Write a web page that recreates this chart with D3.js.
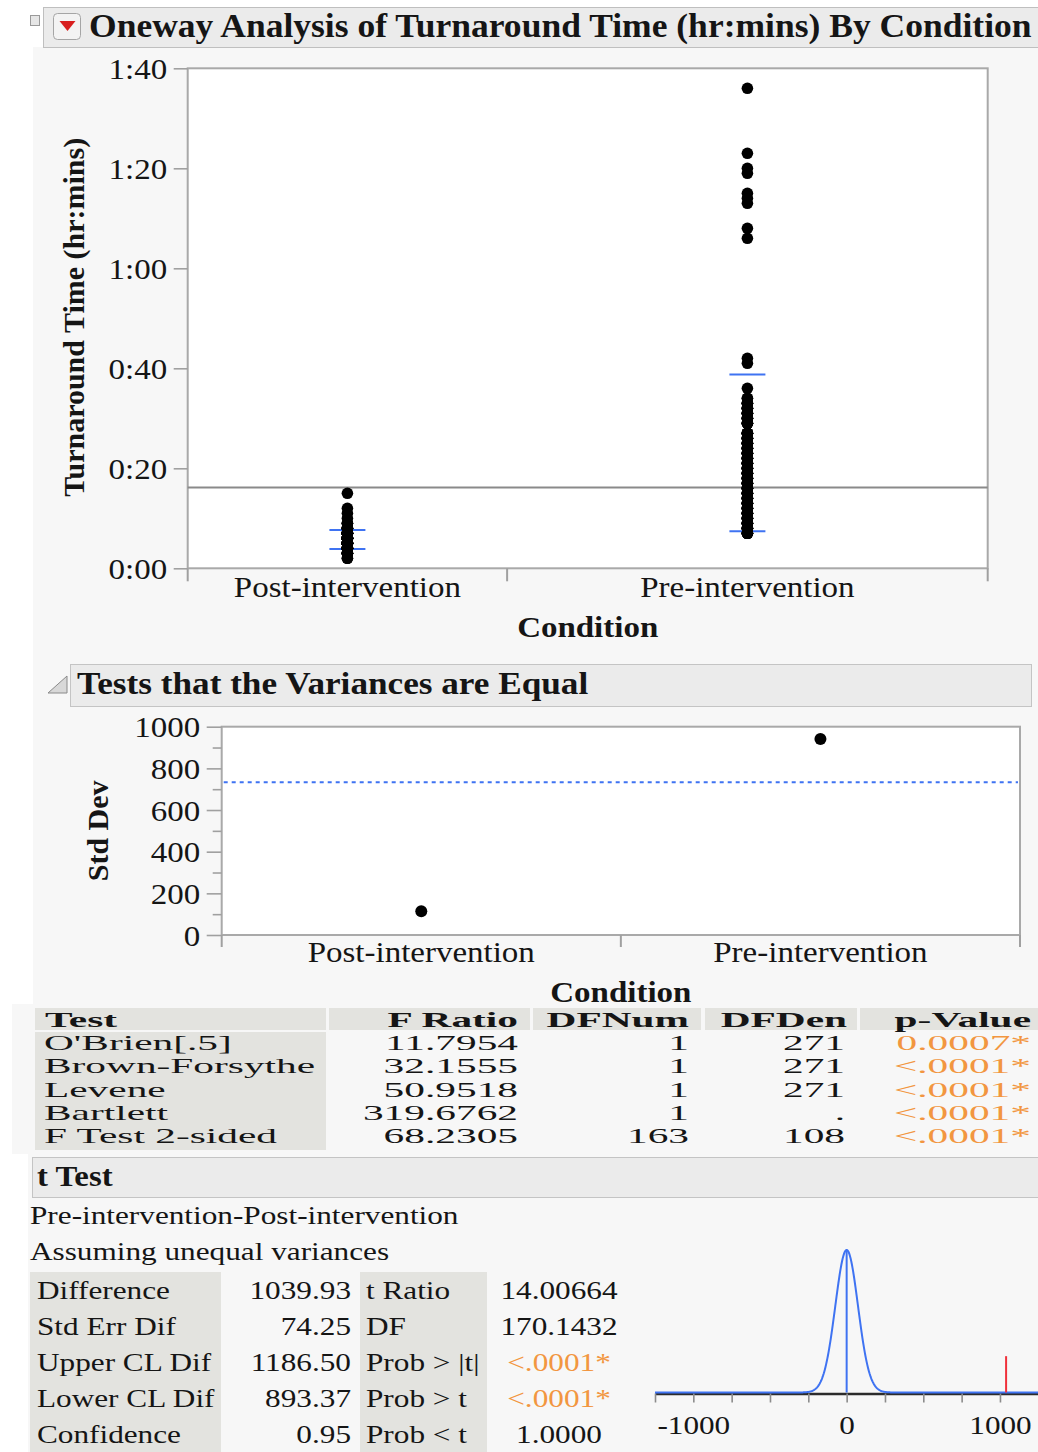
<!DOCTYPE html>
<html>
<head>
<meta charset="utf-8">
<script src="https://cdn.jsdelivr.net/npm/d3@7"></script>
<style>
  html, body { margin: 0; padding: 0; background: #fff; }
  svg { display: block; }
</style>
</head>
<body>
<svg id="chart" width="1038" height="1452"></svg>
<script>
// Turnaround time per request, in seconds
const postIntervention = [
  120, 120,
  180, 180, 180, 180, 180, 180, 180,
  240, 240, 240, 240, 240, 240, 240, 240, 240, 240, 240, 240, 240, 240, 240, 240,
  300, 300, 300, 300, 300, 300, 300, 300, 300, 300, 300, 300, 300,
  300, 300, 300, 300, 300, 300, 300, 300, 300, 300, 300, 300, 300,
  360, 360, 360, 360, 360, 360, 360, 360, 360, 360, 360, 360, 360, 360,
  360, 360, 360, 360, 360, 360, 360, 360, 360, 360, 360, 360, 360, 360,
  420, 420, 420, 420, 420, 420, 420, 420, 420, 420, 420, 420, 420, 420, 420, 420,
  480, 480, 480, 480, 480, 480, 480,
  540, 540, 540,
  600, 660, 720, 900
];
const preIntervention = [
  420, 420, 420, 420, 420, 420,
  480, 480, 480, 480, 480, 480,
  540, 540, 540, 540, 540, 540,
  600, 600, 600, 600, 600, 600,
  660, 660, 660, 660, 660, 660,
  720, 720, 720, 720, 720, 720,
  780, 780, 780, 780, 780, 780,
  840, 840, 840, 840, 840, 840,
  900, 900, 900, 900, 900, 900,
  960, 960, 960, 960, 960, 960,
  1020, 1020, 1020, 1020, 1020, 1020,
  1080, 1080, 1080, 1080, 1080, 1080,
  1140, 1140, 1140, 1140, 1140, 1140,
  1200, 1200, 1200, 1200, 1200, 1200,
  1260, 1260, 1260, 1260, 1260, 1260,
  1320, 1320, 1320, 1320, 1320, 1320,
  1380, 1380, 1380, 1380, 1380, 1380,
  1440, 1440, 1440, 1440, 1440, 1440,
  1500, 1500, 1500, 1500, 1500, 1500,
  1560, 1560, 1560, 1560, 1560, 1560,
  1620, 1620, 1620, 1620, 1620, 1620,
  1740, 1740, 1740, 1740, 1740,
  1800, 1800, 1800, 1800, 1800,
  1860, 1860, 1860, 1860, 1860,
  1920, 1920, 1920, 1920, 1920,
  1980, 1980, 1980, 1980,
  2040, 2040,
  2160, 2460, 2520,
  3960, 4080, 4380, 4440, 4500, 4740, 4800, 4980, 5760
];

const groups = ["Post-intervention", "Pre-intervention"];
const groupMeans = [346.1, 1386.03];
const groupStdDevs = [113.9, 940.8];

const timeTicks = [0, 1200, 2400, 3600, 4800, 6000];
const stdDevTicks = [0, 200, 400, 600, 800, 1000];

const varianceHeaders = ["Test", "F Ratio", "DFNum", "DFDen", "p-Value"];
const varianceTests = ["O'Brien[.5]", "Brown-Forsythe", "Levene", "Bartlett", "F Test 2-sided"];
const varianceFRatio = ["11.7954", "32.1555", "50.9518", "319.6762", "68.2305"];
const varianceDFNum = ["1", "1", "1", "1", "163"];
const varianceDFDen = ["271", "271", "271", ".", "108"];
const varianceP = ["0.0007*", "<.0001*", "<.0001*", "<.0001*", "<.0001*"];

const tStatLabels = ["Difference", "Std Err Dif", "Upper CL Dif", "Lower CL Dif", "Confidence"];
const tStatValues = [1039.93, 74.25, 1186.50, 893.37, 0.95];
const tTestLabels = ["t Ratio", "DF", "Prob > |t|", "Prob > t", "Prob < t"];
const tTestValues = ["14.00664", "170.1432", "<.0001*", "<.0001*", "1.0000"];
const tAxisLabels = [-1000, 0, 1000];

// ---------------------------------------------------------------------------
const SERIF = "'Liberation Serif','Times New Roman',Times,serif";
const INK = "#151515";
const PANEL = "#f7f7f7";
const HEADER = "#ebebeb";
const CELL = "#e3e3df";
const FRAME = "#a9a9a9";
const TICK = "#a0a0a0";
const BLUE = "#3f73f2";
const ORANGE = "#f29640";

const svg = d3.select("#chart");

function label(parent, s, x, y, o = {}) {
  const rot = o.rotate ? ` rotate(${o.rotate})` : "";
  return parent.append("text")
    .attr("transform", `translate(${x},${y})${rot} scale(${o.sx || 1},1)`)
    .attr("font-family", SERIF)
    .attr("font-size", o.size || 30)
    .attr("font-weight", o.bold ? "bold" : "normal")
    .attr("text-anchor", o.anchor || "start")
    .attr("fill", o.color || INK)
    .text(s);
}

function rect(parent, x, y, w, h, fill, stroke) {
  return parent.append("rect")
    .attr("x", x).attr("y", y).attr("width", w).attr("height", h)
    .attr("fill", fill).attr("stroke", stroke || "none");
}

function hline(parent, x1, x2, y, color, width, dash) {
  return parent.append("line")
    .attr("x1", x1).attr("x2", x2).attr("y1", y).attr("y2", y)
    .attr("stroke", color).attr("stroke-width", width)
    .attr("stroke-dasharray", dash || null);
}

function vline(parent, x, y1, y2, color, width) {
  return parent.append("line")
    .attr("x1", x).attr("x2", x).attr("y1", y1).attr("y2", y2)
    .attr("stroke", color).attr("stroke-width", width);
}

function styleLeftAxis(g, dx, dy) {
  g.attr("color", TICK).attr("font-family", SERIF).attr("font-size", 30);
  g.select(".domain").remove();
  g.selectAll(".tick line").attr("stroke-width", 1.6);
  g.selectAll(".tick text")
    .attr("x", 0).attr("dy", 0)
    .attr("fill", INK)
    .attr("transform", `translate(${dx},${dy}) scale(1.1,1)`);
}

const fmtTime = s => `${Math.floor(s / 3600)}:${String(Math.round((s % 3600) / 60)).padStart(2, "0")}`;

// ---------------------------------------------------------------------------
// Report backgrounds
rect(svg, 33, 47, 1005, 957, PANEL);

// Title bar
rect(svg, 43.5, 7.5, 1000, 40, HEADER, "#bfbfbf");
rect(svg, 30.5, 15.5, 9, 10, "#e6e6e6", "#9a9a9a");
svg.append("rect").attr("x", 53.5).attr("y", 13.5).attr("width", 27).attr("height", 26)
  .attr("rx", 4).attr("fill", "#f3f3f3").attr("stroke", "#a5a5a5");
svg.append("path").attr("d", "M59.5,21 L75.5,21 L67.5,31 Z").attr("fill", "#d81e1e");
label(svg, "Oneway Analysis of Turnaround Time (hr:mins) By Condition", 89, 37,
  { size: 34, bold: true, sx: 1.045 });

// ---------------------------------------------------------------------------
// Oneway plot
const F1 = { left: 187.7, right: 987.7, top: 68.3, bottom: 568.3 };
const groupData = [postIntervention, preIntervention];
const counts = groupData.map(d => d.length);
const starts = [0, counts[0]];
const y1 = d3.scaleLinear().domain([0, 6000]).range([F1.bottom, F1.top]);
const xCount = d3.scaleLinear().domain([0, d3.sum(counts)]).range([F1.left, F1.right]);
const centers1 = groups.map((g, i) => xCount(starts[i] + counts[i] / 2));

rect(svg, F1.left, F1.top, F1.right - F1.left, F1.bottom - F1.top, "#fff", FRAME)
  .attr("stroke-width", 2);

const ax1 = svg.append("g").attr("transform", `translate(${F1.left},0)`)
  .call(d3.axisLeft(y1).tickValues(timeTicks).tickFormat(fmtTime).tickSize(14).tickSizeOuter(0));
styleLeftAxis(ax1, -20.5, 10);

[0, counts[0], d3.sum(counts)].forEach(c =>
  vline(svg, xCount(c), F1.bottom, F1.bottom + 13, TICK, 2));

// grand mean
const grandMean = d3.sum(groupMeans.map((m, i) => m * counts[i])) / d3.sum(counts);
hline(svg, F1.left, F1.right, y1(grandMean), "#8a8a8a", 2);

// mean ± one standard deviation
groups.forEach((g, i) => {
  [-1, 1].forEach(k => {
    hline(svg, centers1[i] - 18, centers1[i] + 18, y1(groupMeans[i] + k * groupStdDevs[i]), BLUE, 2);
  });
});

groupData.forEach((data, i) => {
  svg.append("g").selectAll("circle").data(data).join("circle")
    .attr("cx", centers1[i]).attr("cy", d => y1(d)).attr("r", 5.8).attr("fill", "#000");
});

groups.forEach((g, i) => label(svg, g, centers1[i], 597, { size: 30, sx: 1.1, anchor: "middle" }));
label(svg, "Condition", (F1.left + F1.right) / 2, 637, { size: 30, bold: true, sx: 1.1, anchor: "middle" });
label(svg, "Turnaround Time (hr:mins)", 84, (F1.top + F1.bottom) / 2 - 1,
  { size: 30, bold: true, anchor: "middle", rotate: -90 });

// ---------------------------------------------------------------------------
// Tests that the Variances are Equal
rect(svg, 70.5, 664.5, 961, 42, HEADER, "#c4c4c4");
svg.append("path").attr("d", "M48,693 L67,693 L67,676 Z").attr("fill", "#d8d8d8").attr("stroke", "#8a8a8a");
label(svg, "Tests that the Variances are Equal", 77, 694, { size: 32, bold: true, sx: 1.1 });

const F2 = { left: 221.7, right: 1020, top: 726.7, bottom: 935 };
const y2 = d3.scaleLinear().domain([0, 1000]).range([F2.bottom, F2.top]);
const x2 = d3.scaleBand().domain(groups).range([F2.left, F2.right]);

rect(svg, F2.left, F2.top, F2.right - F2.left, F2.bottom - F2.top, "#fff", FRAME)
  .attr("stroke-width", 2);

const ax2 = svg.append("g").attr("transform", `translate(${F2.left},0)`)
  .call(d3.axisLeft(y2).tickValues(stdDevTicks).tickFormat(d3.format("d")).tickSize(15).tickSizeOuter(0));
styleLeftAxis(ax2, -21.5, 10);
const ax2minor = svg.append("g").attr("transform", `translate(${F2.left},0)`)
  .call(d3.axisLeft(y2).tickValues(stdDevTicks.slice(1).map(v => v - 100)).tickSize(9).tickFormat(""));
ax2minor.attr("color", TICK);
ax2minor.select(".domain").remove();
ax2minor.selectAll(".tick line").attr("stroke-width", 1.6);

[F2.left, x2(groups[1]), F2.right].forEach(x => vline(svg, x, F2.bottom, F2.bottom + 12, TICK, 2));

// pooled standard deviation
const pooledSD = Math.sqrt(d3.sum(groupStdDevs.map((s, i) => (counts[i] - 1) * s * s)) / (d3.sum(counts) - 2));
hline(svg, F2.left + 2, F2.right - 2, y2(pooledSD), BLUE, 2, "4,4");

svg.append("g").selectAll("circle").data(groupStdDevs).join("circle")
  .attr("cx", (d, i) => x2(groups[i]) + x2.bandwidth() / 2)
  .attr("cy", d => y2(d)).attr("r", 6).attr("fill", "#000");

groups.forEach(g => label(svg, g, x2(g) + x2.bandwidth() / 2, 962, { size: 30, sx: 1.1, anchor: "middle" }));
label(svg, "Condition", (F2.left + F2.right) / 2, 1002, { size: 30, bold: true, sx: 1.1, anchor: "middle" });
label(svg, "Std Dev", 108, (F2.top + F2.bottom) / 2, { size: 30, bold: true, anchor: "middle", rotate: -90 });

// ---------------------------------------------------------------------------
// Variance test table
rect(svg, 12, 1004, 1026, 150, PANEL);
const varCols = [
  { x0: 35, x1: 326, tx: 44, anchor: "start" },
  { x0: 329, x1: 530, tx: 518, anchor: "end" },
  { x0: 533, x1: 701, tx: 689, anchor: "end" },
  { x0: 705, x1: 857, tx: 847, anchor: "end" },
  { x0: 860, x1: 1040, tx: 1031, anchor: "end" }
];
const varRows = varianceTests.map((t, i) =>
  [t, varianceFRatio[i], varianceDFNum[i], varianceDFDen[i], varianceP[i]]);
const TBL = { size: 21, sx: 1.97 };

varCols.forEach(c => rect(svg, c.x0, 1008, c.x1 - c.x0, 22, CELL));
rect(svg, varCols[0].x0, 1032, varCols[0].x1 - varCols[0].x0, 118, CELL);
varianceHeaders.forEach((h, j) =>
  label(svg, h, varCols[j].tx + (j === 0 ? 1 : 0), 1027,
    { size: TBL.size, sx: TBL.sx, bold: true, anchor: varCols[j].anchor }));
varRows.forEach((row, i) => {
  row.forEach((v, j) => {
    label(svg, v, varCols[j].tx - (j === 3 ? 2 : 0), 1050 + i * 23.33,
      { size: TBL.size, sx: TBL.sx, anchor: varCols[j].anchor, color: j === 4 ? ORANGE : INK });
  });
});

// ---------------------------------------------------------------------------
// t Test
rect(svg, 28, 1154, 1010, 298, PANEL);
rect(svg, 32.5, 1157.5, 1010, 40, HEADER, "#c4c4c4");
label(svg, "t Test", 37, 1186, { size: 29, bold: true, sx: 1.13 });
const TT = { size: 25, sx: 1.25 };
label(svg, `${groups[1]}-${groups[0]}`, 30, 1224, TT);
label(svg, "Assuming unequal variances", 30, 1260, TT);

rect(svg, 30, 1272, 191, 180, CELL);
rect(svg, 360, 1272, 127, 180, CELL);
const fmt2 = d3.format(".2f");
tStatLabels.forEach((l, i) => {
  const yb = 1299 + i * 35.9;
  label(svg, l, 37, yb, TT);
  label(svg, fmt2(tStatValues[i]), 351, yb, { ...TT, anchor: "end" });
  label(svg, tTestLabels[i], 366, yb, TT);
  label(svg, tTestValues[i], 559, yb,
    { ...TT, anchor: "middle", color: tTestValues[i].startsWith("<") ? ORANGE : INK });
});

// t distribution of the difference under the null hypothesis
const tDF = +tTestValues[1];
const tSE = tStatValues[1];
const tDiff = tStatValues[0];
const xT = d3.scaleLinear().domain([-1250, 1250]).range([655, 1038.3]);
const AXIS_Y = 1393.5;
const yT = d3.scaleLinear().domain([0, 1]).range([AXIS_Y - 1, 1250]);
const density = u => Math.pow(1 + (u * u) / tDF, -(tDF + 1) / 2);

const axT = svg.append("g").attr("transform", `translate(0,${AXIS_Y})`)
  .call(d3.axisBottom(xT).tickValues(d3.range(-1250, 1251, 250)).tickSize(9).tickSizeOuter(0)
    .tickFormat(v => tAxisLabels.includes(v) ? String(v) : ""));
axT.attr("font-family", SERIF).attr("font-size", 26).attr("color", "#8c8c8c");
axT.select(".domain").attr("stroke", "#2b2b2b").attr("stroke-width", 2.5);
axT.selectAll(".tick line").attr("stroke-width", 1.6);
axT.selectAll(".tick text").attr("y", 0).attr("dy", 0).attr("fill", INK)
  .attr("transform", "translate(0,40) scale(1.2,1)");

const curveX = d3.range(-1250, 1251, 4);
svg.append("path")
  .attr("d", d3.line().x(v => xT(v)).y(v => yT(density(v / tSE)))(curveX))
  .attr("fill", "none").attr("stroke", BLUE).attr("stroke-width", 2);
vline(svg, xT(0), yT(0), yT(1), BLUE, 2);
vline(svg, xT(tDiff), yT(0), yT(0.255), "#f0303a", 2);
</script>
</body>
</html>
